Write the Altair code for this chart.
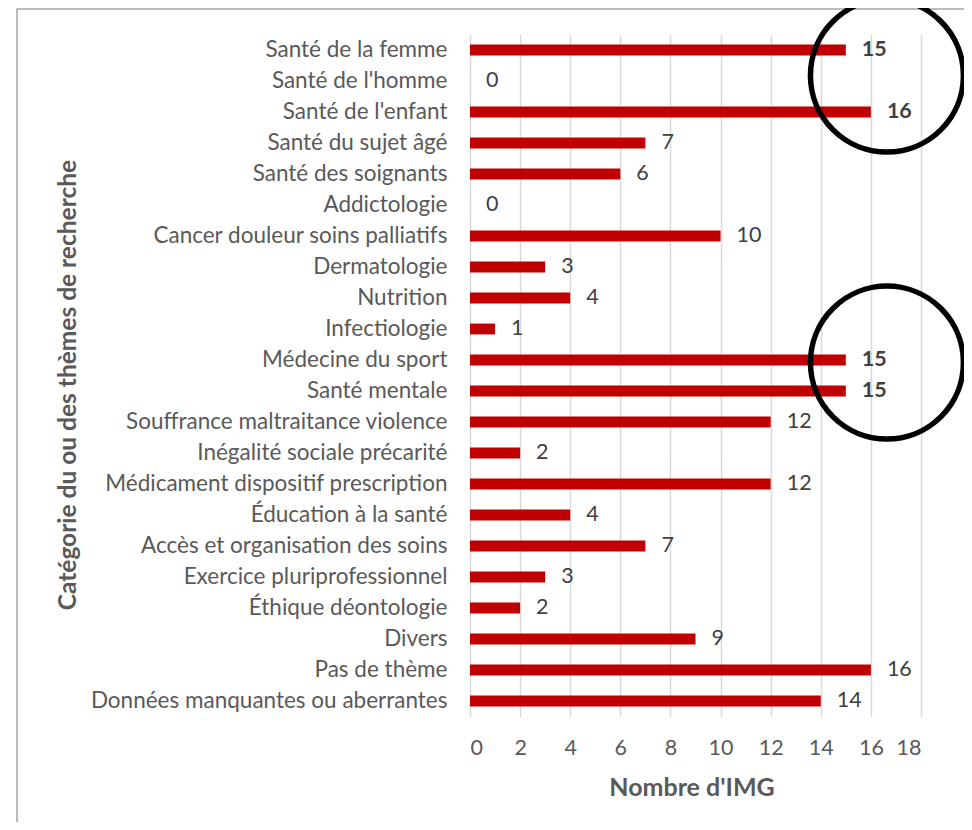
import altair as alt
import pandas as pd

categories = [
    "Santé de la femme", "Santé de l'homme", "Santé de l'enfant", "Santé du sujet âgé",
    "Santé des soignants", "Addictologie", "Cancer douleur soins palliatifs", "Dermatologie",
    "Nutrition", "Infectiologie", "Médecine du sport", "Santé mentale",
    "Souffrance maltraitance violence", "Inégalité sociale précarité",
    "Médicament dispositif prescription", "Éducation à la santé",
    "Accès et organisation des soins", "Exercice pluriprofessionnel",
    "Éthique déontologie", "Divers", "Pas de thème", "Données manquantes ou aberrantes",
]
values = [15, 0, 16, 7, 6, 0, 10, 3, 4, 1, 15, 15, 12, 2, 12, 4, 7, 3, 2, 9, 16, 14]
bold = [True, False, True, False, False, False, False, False, False, False, True, True,
        False, False, False, False, False, False, False, False, False, False]

# highlight circles (annotation)
circle_x = [16.64, 16.64]
circle_cat = ["Santé de l'homme", "Médecine du sport"]
circle_offset = [0, 8]

x_ticks = [0, 2, 4, 6, 8, 10, 12, 14, 16, 18]

df = pd.DataFrame({"cat": categories, "val": values, "bold": bold})
circles = pd.DataFrame({"x": circle_x, "cat": circle_cat, "off": circle_offset})
one = pd.DataFrame({"k": [0]})

FONT = "Lato"
W, H = 451, 682

y_enc = alt.Y("cat:N", sort=categories,
              scale=alt.Scale(paddingInner=0.65, paddingOuter=0.325),
              axis=alt.Axis(title="Catégorie du ou des thèmes de recherche",
                            labelFontSize=22.5, labelColor="#595959", labelPadding=23,
                            labelFont=FONT, labelLimit=500,
                            titleFont=FONT, titleFontSize=24.5, titleFontWeight="bold",
                            titleColor="#595959", titleX=-402, titleY=H / 2 + 9,
                            titleAngle=-90, titleAlign="center", titleBaseline="middle",
                            domain=False, ticks=False, grid=False))
x_enc = alt.X("val:Q", scale=alt.Scale(domain=[0, 18], nice=False),
              axis=alt.Axis(title="Nombre d'IMG", values=x_ticks,
                            labelFontSize=21.5, labelColor="#595959", labelPadding=21,
                            labelFont=FONT,
                            titleFont=FONT, titleFontSize=25, titleFontWeight="bold",
                            titleColor="#595959", titleX=W / 2 - 4, titleY=71,
                            titleBaseline="middle",
                            domain=False, ticks=False, grid=True,
                            gridColor="#d9d9d9", gridWidth=1.5))

base = alt.Chart(df)
bars = base.mark_bar(color="#C00000").encode(x=x_enc, y=y_enc)
labels_norm = base.transform_filter("!datum.bold").mark_text(
    align="left", baseline="middle", dx=16, font=FONT, fontSize=21.5, color="#404040"
).encode(x="val:Q", y=alt.Y("cat:N", sort=categories), text="val:Q")
labels_bold = base.transform_filter("datum.bold").mark_text(
    align="left", baseline="middle", dx=16, font=FONT, fontSize=21.5, fontWeight="bold",
    color="#404040"
).encode(x="val:Q", y=alt.Y("cat:N", sort=categories), text="val:Q")

rings = alt.Chart(circles).mark_point(
    shape="circle", filled=False, color="#000000", strokeWidth=5.5, size=23400, opacity=1
).encode(x="x:Q", y=alt.Y("cat:N", sort=categories), yOffset=alt.YOffset("off:Q", scale=None))

border_left = alt.Chart(one).mark_rule(color="#a6a6a6", strokeWidth=1.5).encode(
    x=alt.value(-453), y=alt.value(-26), y2=alt.value(800))
border_top = alt.Chart(one).mark_rule(color="#a6a6a6", strokeWidth=1.5).encode(
    y=alt.value(-25.5), x=alt.value(-453), x2=alt.value(600))

chart = alt.layer(border_left, border_top, bars, labels_norm, labels_bold, rings).properties(
    width=W, height=H,
    autosize=alt.AutoSizeParams(type="none"),
    padding={"left": 462, "top": 26.5, "right": 43, "bottom": 105},
    background="white",
).configure_view(stroke=None)

chart.save("out.html", embed_options={"renderer": "svg", "actions": False})
